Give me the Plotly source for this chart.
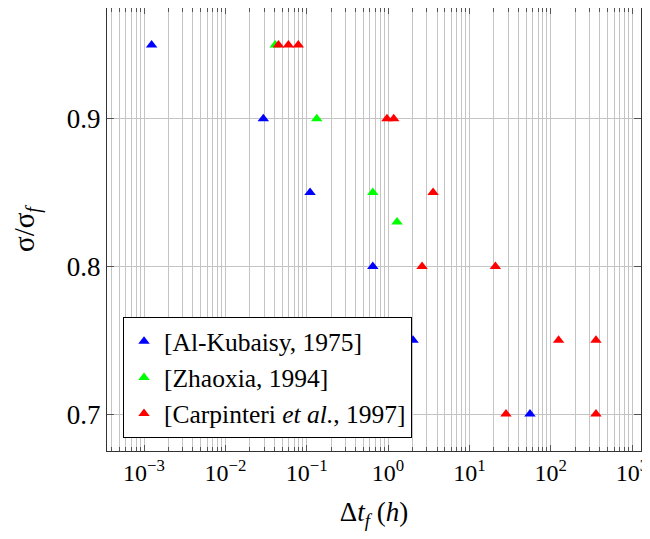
import plotly.graph_objects as go

# Data (Δt_f in hours, σ/σ_f)
kub_x = [0.00124, 0.0293, 0.11, 0.65, 2.03, 55.6]
kub_y = [0.95, 0.90, 0.85, 0.80, 0.75, 0.70]

zha_x = [0.041, 0.133, 0.65, 1.29]
zha_y = [0.95, 0.90, 0.85, 0.83]

car_x = [0.045, 0.0596, 0.0788, 0.97, 1.175, 3.58, 2.62, 20.9, 125, 360, 28.2, 360]
car_y = [0.95, 0.95, 0.95, 0.90, 0.90, 0.85, 0.80, 0.80, 0.75, 0.75, 0.70, 0.70]

x_tickvals = [1e-3, 1e-2, 1e-1, 1e0, 1e1, 1e2, 1e3]
x_ticktext = ["10<sup>−3</sup>", "10<sup>−2</sup>", "10<sup>−1</sup>", "10<sup>0</sup>",
              "10<sup>1</sup>", "10<sup>2</sup>", "10<sup>3</sup>"]
y_tickvals = [0.7, 0.8, 0.9]
y_ticktext = ["0.7", "0.8", "0.9"]

names = ["[Al-Kubaisy, 1975]", "[Zhaoxia, 1994]", "[Carpinteri <i>et al.</i>, 1997]"]
colors = ["#0000ff", "#00ff00", "#ff0000"]

fig = go.Figure()
for xs, ys, nm, c in zip([kub_x, zha_x, car_x], [kub_y, zha_y, car_y], names, colors):
    fig.add_trace(go.Scatter(x=xs, y=ys, mode="markers", name=nm,
                             marker=dict(symbol="triangle-up", size=10, color=c,
                                         line=dict(width=0))))

FONT = "Times New Roman, Liberation Serif, serif"
grid = "#c4c4c4"
fig.update_layout(
    template="none",
    width=642, height=523,
    margin=dict(l=99, r=9, t=0, b=80, autoexpand=False),
    paper_bgcolor="white", plot_bgcolor="white",
    font=dict(family=FONT, color="black", size=24),
    showlegend=True,
    legend=dict(x=0.03, y=0.029, xanchor="left", yanchor="bottom",
                bgcolor="white", bordercolor="black", borderwidth=1,
                font=dict(family=FONT, size=25.5, color="black"),
                itemwidth=30, tracegroupgap=0),
    xaxis=dict(type="log", range=[-3.455, 3.11], automargin=False,
               showgrid=True, gridcolor=grid, gridwidth=1,
               showline=True, linecolor="#333333", linewidth=1, mirror="allticks",
               ticks="inside", ticklen=6, tickcolor="#555555",
               tickvals=x_tickvals, ticktext=x_ticktext, ticklabeloverflow="allow",
               tickfont=dict(family=FONT, size=24),
               minor=dict(showgrid=True, gridcolor=grid, gridwidth=1,
                          ticks="inside", ticklen=4, tickcolor="#555555", dtick="D1"),
               title=dict(text="Δ<i>t</i><sub><i>f</i></sub> (<i>h</i>)", standoff=20,
                          font=dict(family=FONT, size=27)),
               zeroline=False),
    yaxis=dict(range=[0.675, 0.975], automargin=False,
               tickvals=y_tickvals, ticktext=y_ticktext,
               showgrid=True, gridcolor=grid, gridwidth=1,
               showline=True, linecolor="#333333", linewidth=1, mirror="allticks",
               ticks="inside", ticklen=7, tickcolor="#555555",
               tickfont=dict(family=FONT, size=27),
               title=dict(text="σ/σ<sub><i>f</i></sub>", standoff=25,
                          font=dict(family=FONT, size=29)),
               zeroline=False),
)

fig.write_html("out.html")
